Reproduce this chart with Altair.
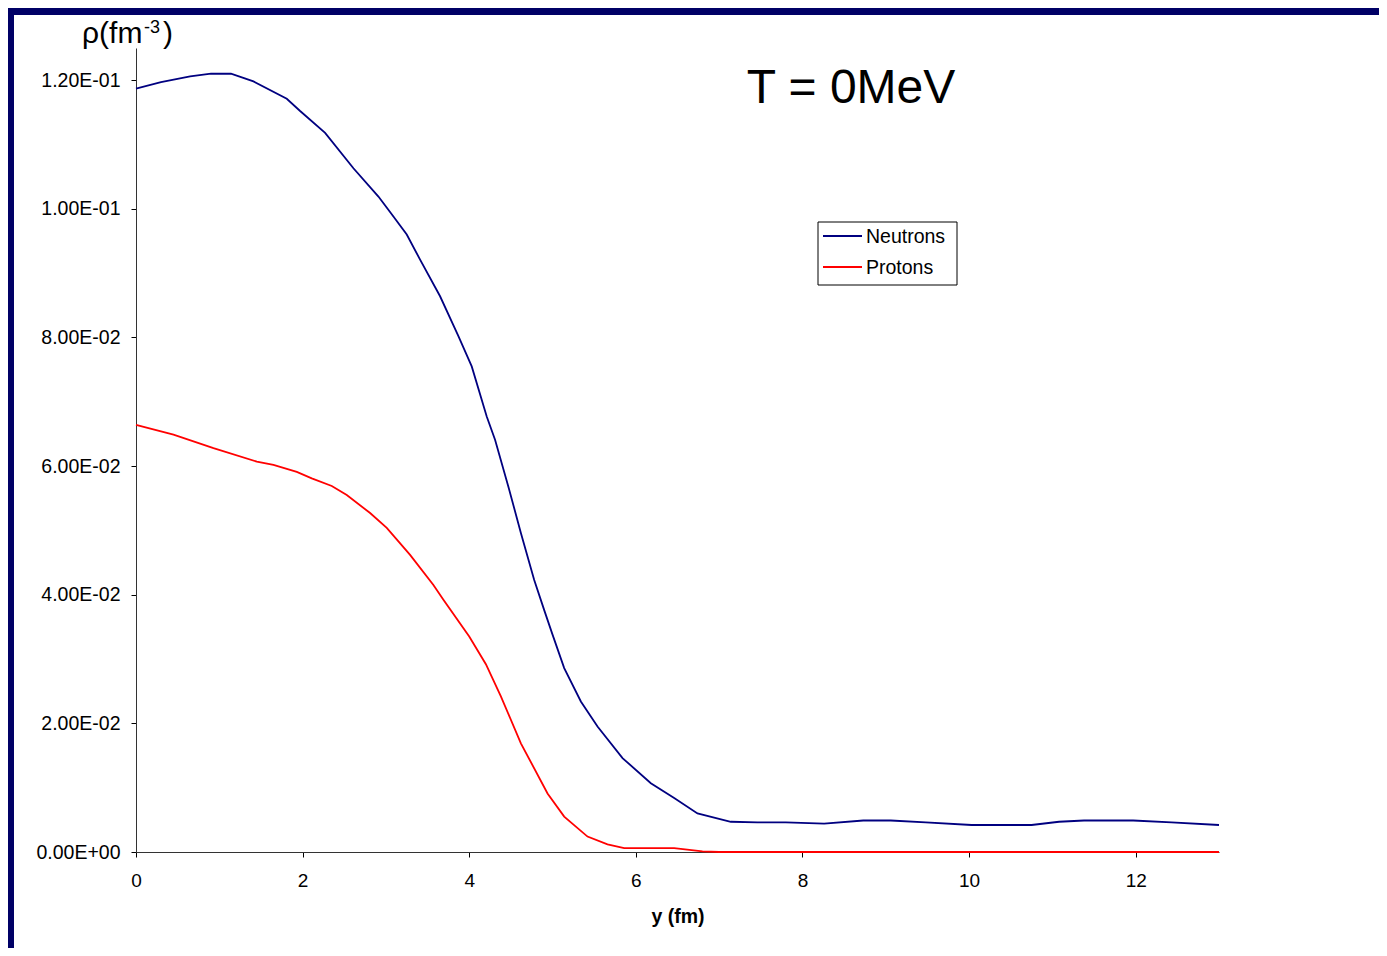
import altair as alt
import pandas as pd

# ---------------- data ----------------
neutron_y = [0.0, 0.3, 0.65, 0.9, 1.14, 1.41, 1.81, 1.97, 2.27, 2.61, 2.91, 3.09, 3.25,
             3.41, 3.65, 3.87, 4.03, 4.21, 4.31, 4.47, 4.62, 4.78, 4.90, 5.00, 5.14, 5.34,
             5.54, 5.84, 6.18, 6.46, 6.74, 7.14, 7.46, 7.80, 8.26, 8.73, 9.06, 9.48, 10.03,
             10.75, 11.08, 11.38, 11.97, 12.43, 13.0]
neutron_rho = [0.1187, 0.1197, 0.1206, 0.1210, 0.1210, 0.1198, 0.1171, 0.1152, 0.1118,
               0.1063, 0.1019, 0.0988, 0.0960, 0.0921, 0.0864, 0.0802, 0.0755, 0.0677,
               0.0641, 0.0568, 0.0496, 0.0423, 0.0376, 0.0338, 0.0286, 0.0234, 0.0195,
               0.0146, 0.0107, 0.0084, 0.0060, 0.0047, 0.0046, 0.0046, 0.0044, 0.0049,
               0.0049, 0.0046, 0.0042, 0.0042, 0.0047, 0.0049, 0.0049, 0.0046, 0.0042]

proton_y = [0.0, 0.45, 0.93, 1.45, 1.65, 1.93, 2.11, 2.35, 2.53, 2.81, 3.01, 3.29, 3.57,
            3.69, 4.0, 4.2, 4.38, 4.62, 4.94, 5.14, 5.42, 5.66, 5.86, 6.46, 6.8, 7.0,
            8.0, 10.0, 13.0]
proton_rho = [0.0664, 0.0649, 0.0628, 0.0607, 0.0602, 0.0591, 0.0581, 0.0569, 0.0555,
              0.0527, 0.0504, 0.0462, 0.0415, 0.0392, 0.0335, 0.0292, 0.0242, 0.0169,
              0.0091, 0.0055, 0.0024, 0.0012, 0.0006, 0.0006, 0.0001, 0.0, 0.0, 0.0, 0.0]

series_names = ["Neutrons", "Protons"]
series_colors = ["#000080", "#FF0000"]

x_ticks = [0, 2, 4, 6, 8, 10, 12]
y_ticks = [0.0, 0.02, 0.04, 0.06, 0.08, 0.10, 0.12]
y_tick_labels = ["0.00E+00", "2.00E-02", "4.00E-02", "6.00E-02", "8.00E-02",
                 "1.00E-01", "1.20E-01"]

x_title = "y (fm)"
y_title_main = "ρ(fm"
y_title_sup = "-3"
y_title_close = ")"
annotation = "T = 0MeV"

# ---------------- build ----------------
df = pd.concat([
    pd.DataFrame({"y": neutron_y, "rho": neutron_rho, "series": series_names[0]}),
    pd.DataFrame({"y": proton_y, "rho": proton_rho, "series": series_names[1]}),
], ignore_index=True)

FONT = "Liberation Sans"
W, H = 1083, 804
color_scale = alt.Scale(domain=series_names, range=series_colors)

label_expr = "[" + ",".join(f"'{s}'" for s in y_tick_labels) + "][round(datum.value/0.02)]"

lines = alt.Chart(df).mark_line(strokeWidth=1.8).encode(
    x=alt.X("y:Q",
            scale=alt.Scale(domain=[0, 13], nice=False, zero=False),
            axis=alt.Axis(values=x_ticks, title=x_title, grid=False, labelFlush=False,
                          labelFontSize=19, labelPadding=14, tickSize=5,
                          titleFontSize=19.5, titleFontWeight="bold",
                          titleY=70, titleBaseline="alphabetic")),
    y=alt.Y("rho:Q",
            scale=alt.Scale(domain=[0, 0.125], nice=False),
            axis=alt.Axis(values=y_ticks, title=None, grid=False, labelFlush=False,
                          labelExpr=label_expr, labelFontSize=19.5,
                          labelPadding=11, tickSize=5)),
    color=alt.Color("series:N", scale=color_scale, legend=None),
)

one = pd.DataFrame({"k": [0]})

ann = alt.Chart(pd.DataFrame({"t": [annotation]})).mark_text(
    fontSize=48, font=FONT, align="center", baseline="alphabetic", color="black"
).encode(x=alt.value(715), y=alt.value(55), text="t:N")

yt1 = alt.Chart(pd.DataFrame({"t": [y_title_main]})).mark_text(
    fontSize=30, font=FONT, align="left", baseline="alphabetic", color="black"
).encode(x=alt.value(-54), y=alt.value(-5), text="t:N")
yt2 = alt.Chart(pd.DataFrame({"t": [y_title_sup]})).mark_text(
    fontSize=18, font=FONT, align="left", baseline="alphabetic", color="black"
).encode(x=alt.value(8), y=alt.value(-15), text="t:N")
yt3 = alt.Chart(pd.DataFrame({"t": [y_title_close]})).mark_text(
    fontSize=30, font=FONT, align="left", baseline="alphabetic", color="black"
).encode(x=alt.value(27), y=alt.value(-5), text="t:N")

# legend (drawn as marks to match the boxed legend of the original)
leg_box = alt.Chart(one).mark_rect(fill="white", stroke="black", strokeWidth=1).encode(
    x=alt.value(682), x2=alt.value(821), y=alt.value(174), y2=alt.value(237))
leg_layers = [leg_box]
leg_df = pd.DataFrame({"series": series_names})
for i, name in enumerate(series_names):
    sub = leg_df[leg_df["series"] == name]
    leg_layers.append(alt.Chart(sub).mark_rule(strokeWidth=1.8).encode(
        x=alt.value(687), x2=alt.value(726), y=alt.value(188 + 31 * i),
        color=alt.Color("series:N", scale=color_scale, legend=None)))
    leg_layers.append(alt.Chart(sub).mark_text(
        fontSize=19.5, font=FONT, align="left", baseline="middle", color="black").encode(
        x=alt.value(730), y=alt.value(189 + 31 * i), text="series:N"))

# slide frame (navy band on top and left)
frame_top = alt.Chart(one).mark_rect(fill="#000066").encode(
    x=alt.value(-128), x2=alt.value(1243), y=alt.value(-40), y2=alt.value(-33))
frame_left = alt.Chart(one).mark_rect(fill="#000066").encode(
    x=alt.value(-128), x2=alt.value(-122), y=alt.value(-40), y2=alt.value(900))

chart = alt.layer(frame_top, frame_left, lines, ann, yt1, yt2, yt3, *leg_layers).properties(
    width=W, height=H,
    autosize=alt.AutoSizeParams(type="none"),
    padding={"left": 128, "top": 40, "right": 160, "bottom": 96},
    background="white",
).resolve_scale(color="shared").configure_view(stroke=None).configure_axis(
    labelFont=FONT, titleFont=FONT, labelColor="black", titleColor="black",
    domainColor="#333333", tickColor="black", domainWidth=1, tickWidth=1,
)

chart.save("out.html", embed_options={"renderer": "svg", "actions": False})
